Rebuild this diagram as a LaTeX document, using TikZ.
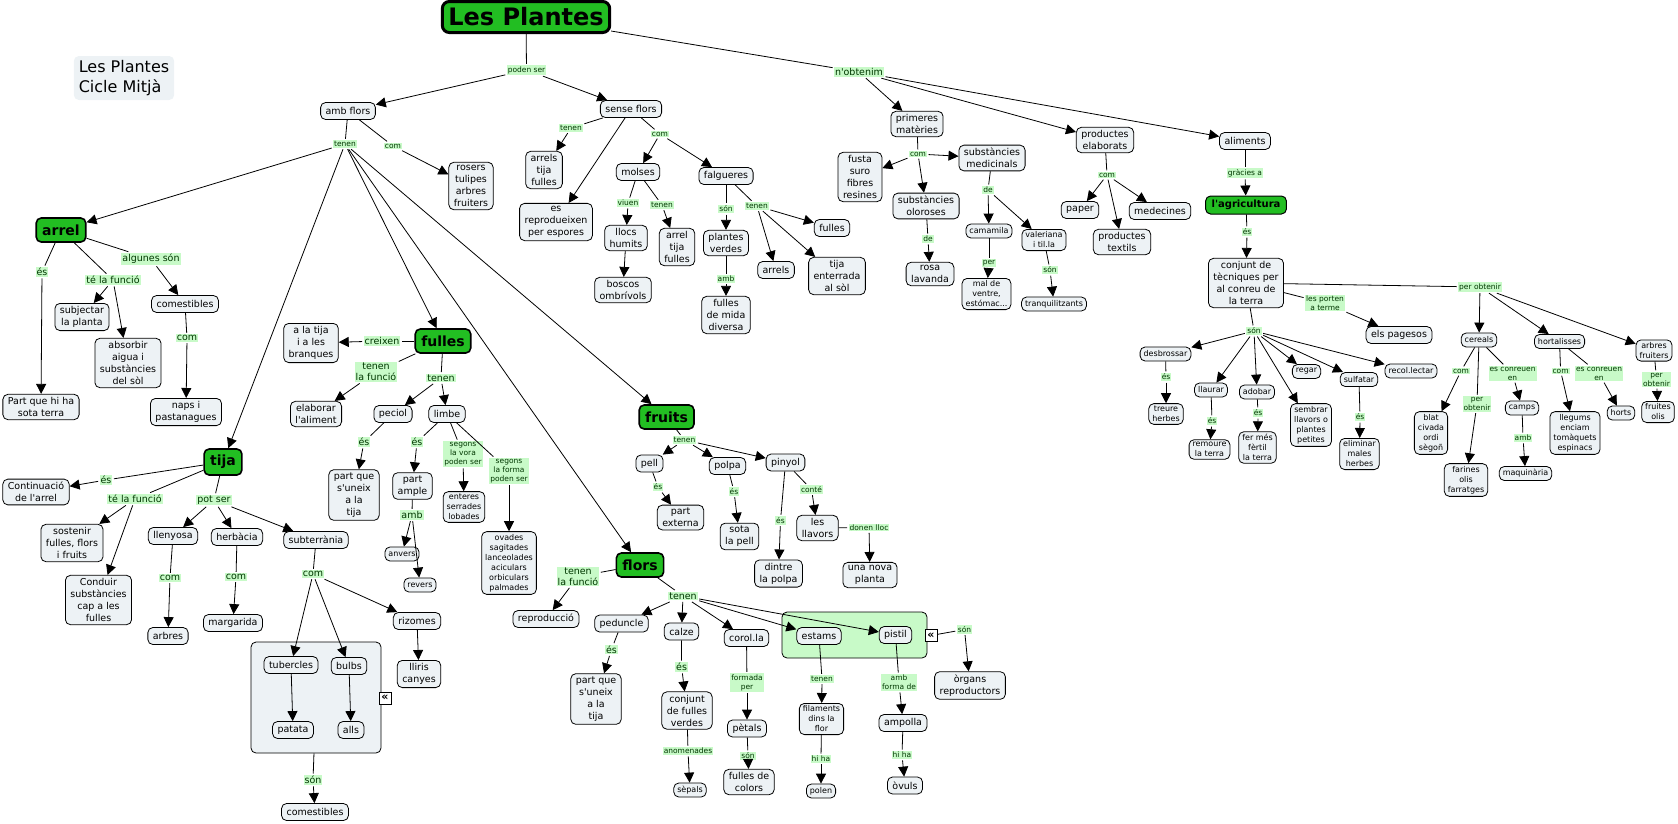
\documentclass[tikz,border=0pt]{standalone}
\usepackage{fontspec}
\setmainfont{DejaVu Sans}
\usepackage{tikz}
\usetikzlibrary{arrows.meta}
\usepackage{xcolor}
\definecolor{cptfill}{RGB}{237,242,245}
\definecolor{mainfill}{RGB}{34,190,34}
\definecolor{lblfill}{RGB}{200,250,200}
\definecolor{lbltext}{RGB}{0,55,0}
\definecolor{grpfill}{RGB}{200,250,200}
\newcommand{\aps}{\textquotesingle}
\newcommand{\drawC}[5][cpt]{
    \node[#1] (#2) at (#3,#4) {#5};
}
\newcommand{\drawL}[5][lbl]{
    \node[#1] (#2) at (#3,#4) {#5};
}
\newcommand{\drawE}[2]{
    \draw[link] (#1) -- (#2);
}
\newcommand{\drawA}[2]{
    \draw[arr] (#1) -- (#2);
}

\begin{document}
\begin{tikzpicture}[x=1pt, y=-1pt,
    cpt/.style={draw, rounded corners=5pt, line width=0.8pt, fill=cptfill, align=center,
        inner xsep=5pt, inner ysep=3pt, minimum height=17pt, font=\fontsize{9.5}{12}\selectfont},
    cps/.style={cpt, inner xsep=3.5pt, inner ysep=2.5pt, minimum height=14pt, font=\fontsize{8}{10}\selectfont},
    mainc/.style={cpt, fill=mainfill, line width=1.6pt, minimum height=24pt, inner xsep=6pt,
        font=\bfseries\fontsize{14}{16}\selectfont},
    lbl/.style={fill=lblfill, text=lbltext, align=center, inner sep=1pt, outer sep=1.5pt,
        font=\fontsize{7.5}{9}\selectfont},
    lblb/.style={lbl, font=\fontsize{9.5}{11}\selectfont},
    link/.style={line width=0.8pt},
    arr/.style={link, -{Triangle[length=10pt,width=10pt]}},
    grpbox/.style={draw, rounded corners=5pt, line width=0.8pt},
    icon/.style={draw, fill=white, line width=0.6pt, inner sep=0pt, minimum size=12pt,
        font=\bfseries\fontsize{11}{11}\selectfont}]
    \useasboundingbox (0,0) rectangle (1678,823);
    % Groups
    \node[grpbox, fill=cptfill, minimum width=130pt, minimum height=111pt] (subtgrp) at (316,697.5) {};
    \node[grpbox, fill=grpfill, minimum width=145pt, minimum height=46pt] (florgrp) at (854.5,635) {};
    \node[icon] (ic1) at (385,698) {«};
    \node[icon] (ic2) at (931,635.5) {«};
    % Main concepts
    \drawC[mainc, line width=3pt, rounded corners=7pt, minimum width=166pt, minimum height=31pt,
        font=\bfseries\fontsize{24}{26}\selectfont]{plantes}{526}{17}{Les Plantes}
    \drawC[cpt, draw=none, align=left, minimum width=100pt, minimum height=44pt,
        font=\fontsize{16}{20}\selectfont]{info}{124}{78}{Les Plantes\\Cicle Mitjà}
    \drawC[mainc]{arrel}{61}{230}{arrel}
    \drawC[mainc, minimum height=26pt]{tija}{223}{462}{tija}
    \drawC[mainc]{fulles}{443}{341}{fulles}
    \drawC[mainc]{fruits}{666.6}{417}{fruits}
    \drawC[mainc]{flors}{640}{565}{flors}
    \drawC[mainc, line width=1pt, minimum height=18pt, font=\bfseries\fontsize{10}{12}\selectfont]{agri}{1246}{205}{l\aps{}agricultura}
    % Concepts
    \drawC{amb}{348}{111}{amb flors}
    \drawC{sense}{631}{109}{sense flors}
    \drawC{rosers}{471}{186}{rosers\\tulipes\\arbres\\fruiters}
    \drawC{partsota}{41}{407}{Part que hi ha\\sota terra}
    \drawC{subj}{82}{317}{subjectar\\la planta}
    \drawC{absorb}{128}{363}{absorbir\\aigua i\\substàncies\\del sòl}
    \drawC{comest}{185}{304}{comestibles}
    \drawC{naps}{186}{412}{naps i\\pastanagues}
    \drawC{branq}{311}{343}{a la tija\\i a les\\branques}
    \drawC{elab}{316}{414}{elaborar\\l\aps{}aliment}
    \drawC{peciol}{393}{414}{peciol}
    \drawC{limbe}{447}{414}{limbe}
    \drawC{cont}{36}{492}{Continuació\\de l\aps{}arrel}
    \drawC{sost}{72}{543}{sostenir\\fulles, flors\\i fruits}
    \drawC{cond}{98.5}{600}{Conduir\\substàncies\\cap a les\\fulles}
    \drawC{llen}{173}{536}{llenyosa}
    \drawC{herb}{237}{537}{herbàcia}
    \drawC{subt}{316}{540}{subterrània}
    \drawC{arbres}{168}{636}{arbres}
    \drawC{marg}{233}{623}{margarida}
    \drawC{rizo}{417}{621}{rizomes}
    \drawC{lliris}{419}{674}{lliris\\canyes}
    \drawC{tuber}{291}{665}{tubercles}
    \drawC{bulbs}{349}{666}{bulbs}
    \drawC{patata}{293}{730}{patata}
    \drawC{alls}{351}{730}{alls}
    \drawC{comest2}{315}{812}{comestibles}
    \drawC{partun}{354}{495}{part que\\s\aps{}uneix\\a la\\tija}
    \drawC{ample}{412.5}{486}{part\\ample}
    \drawC[cps]{anvers}{402}{554}{anvers}
    \drawC[cps]{revers}{420}{585}{revers}
    \drawC[cps]{enteres}{464}{507}{enteres\\serrades\\lobades}
    \drawC[cps]{ovades}{509}{563}{ovades\\sagitades\\lanceolades\\aciculars\\orbiculars\\palmades}
    \drawC{repro}{546}{619}{reproducció}
    \drawC{arrels1}{544}{170}{arrels\\tija\\fulles}
    \drawC{espores}{556}{222}{es\\reprodueixen\\per espores}
    \drawC{molses}{638}{172}{molses}
    \drawC{falg}{726}{176}{falgueres}
    \drawC{llocs}{626}{238}{llocs\\humits}
    \drawC{arrel2}{677}{247}{arrel\\tija\\fulles}
    \drawC{boscos}{623}{290}{boscos\\ombrívols}
    \drawC{verdes}{726}{243}{plantes\\verdes}
    \drawC{mida}{726}{315}{fulles\\de mida\\diversa}
    \drawC{fulles2}{832}{228}{fulles}
    \drawC{arrels2}{776}{270}{arrels}
    \drawC{enterr}{837}{276}{tija\\enterrada\\al sòl}
    \drawC{prim}{917}{124}{primeres\\matèries}
    \drawC{fusta}{860}{177}{fusta\\suro\\fibres\\resines}
    \drawC{medic}{992}{158}{substàncies\\medicinals}
    \drawC{olor}{926}{206}{substàncies\\oloroses}
    \drawC{rosa}{930}{274}{rosa\\lavanda}
    \drawC[cps]{camam}{989}{231}{camamila}
    \drawC[cps]{valer}{1044}{240}{valeriana\\i til.la}
    \drawC[cps]{mal}{986.5}{294}{mal de\\ventre,\\estómac...}
    \drawC[cps]{tranq}{1054}{304}{tranquilitzants}
    \drawC{prod}{1105}{140}{productes\\elaborats}
    \drawC{alim}{1245}{141}{aliments}
    \drawC{paper}{1080}{210}{paper}
    \drawC{medec}{1160}{211}{medecines}
    \drawC{text}{1122}{242}{productes\\textils}
    \drawC{conj}{1246}{283}{conjunt de\\tècniques per\\al conreu de\\la terra}
    \drawC{pages}{1399}{335}{els pagesos}
    \drawC[cps]{desb}{1165.5}{354}{desbrossar}
    \drawC[cps]{treure}{1166}{414}{treure\\herbes}
    \drawC[cps]{llaur}{1211}{390}{llaurar}
    \drawC[cps]{remou}{1209.5}{449.5}{remoure\\la terra}
    \drawC[cps]{adob}{1257}{392}{adobar}
    \drawC[cps]{ferti}{1257.5}{447.5}{fer més\\fèrtil\\la terra}
    \drawC[cps]{sembr}{1311}{425}{sembrar\\llavors o\\plantes\\petites}
    \drawC[cps]{regar}{1306.5}{371.5}{regar}
    \drawC[cps]{sulf}{1359}{379.5}{sulfatar}
    \drawC[cps]{elim}{1359.5}{454}{eliminar\\males\\herbes}
    \drawC[cps]{recol}{1411}{371}{recol.lectar}
    \drawC[cps]{cereals}{1479}{340}{cereals}
    \drawC[cps]{hort}{1559.5}{341.5}{hortalisses}
    \drawC[cps]{arbfr}{1654}{350.5}{arbres\\fruiters}
    \drawC[cps]{blat}{1431}{433}{blat\\civada\\ordi\\sègoñ}
    \drawC[cps]{farin}{1466}{480}{farines\\olis\\farratges}
    \drawC[cps]{camps}{1522}{408}{camps}
    \drawC[cps]{maqui}{1525.5}{473.5}{maquinària}
    \drawC[cps]{llegums}{1575}{433}{llegums\\enciam\\tomàquets\\espinacs}
    \drawC[cps]{horts}{1621}{413}{horts}
    \drawC[cps]{fruites}{1658}{412}{fruites\\olis}
    \drawC{pell}{649.5}{463.5}{pell}
    \drawC{polpa}{727.5}{466}{polpa}
    \drawC{pinyol}{785.5}{462.5}{pinyol}
    \drawC{extern}{680.5}{517.5}{part\\externa}
    \drawC{sota}{739.5}{536.5}{sota\\la pell}
    \drawC{llavors}{817.5}{528}{les\\llavors}
    \drawC{dintre}{778.5}{573.5}{dintre\\la polpa}
    \drawC{nova}{870}{575}{una nova\\planta}
    \drawC{pedun}{621.5}{623.5}{peduncle}
    \drawC{calze}{681.5}{631.5}{calze}
    \drawC{corol}{746.5}{638}{corol.la}
    \drawC{estams}{819}{636}{estams}
    \drawC{pistil}{895.5}{635}{pistil}
    \drawC{organs}{970}{685.5}{òrgans\\reproductors}
    \drawC{partun2}{596}{699}{part que\\s\aps{}uneix\\a la\\tija}
    \drawC{fverd}{687}{710.5}{conjunt\\de fulles\\verdes}
    \drawC[cps]{sepals}{690}{790}{sèpals}
    \drawC{petals}{747}{728.5}{pètals}
    \drawC{fcolor}{749}{782}{fulles de\\colors}
    \drawC[cps]{filam}{821.5}{719}{filaments\\dins la\\flor}
    \drawC[cps]{polen}{821}{791}{polen}
    \drawC{ampol}{903}{723}{ampolla}
    \drawC{ovuls}{905}{785.5}{òvuls}
    % Linking phrases
    \drawL{podenser}{526.5}{70}{poden ser}
    \drawL[lblb]{nobt}{859}{72}{n\aps{}obtenim}
    \drawL{tenA}{345}{144}{tenen}
    \drawL{comA}{393}{146}{com}
    \drawL[lblb]{esAr}{42}{272}{és}
    \drawL[lblb]{funAr}{113}{280}{té la funció}
    \drawL[lblb]{algu}{151}{259}{algunes són}
    \drawL[lblb]{comC}{187}{338}{com}
    \drawL[lblb]{creix}{382}{341}{creixen}
    \drawL[lblb]{funFu}{376}{372}{tenen\\la funció}
    \drawL[lblb]{tenFu}{441}{378}{tenen}
    \drawL[lblb]{esTi}{106}{480}{és}
    \drawL[lblb]{funTi}{135}{499}{té la funció}
    \drawL[lblb]{potser}{214}{500}{pot ser}
    \drawL[lblb]{comLl}{170}{578}{com}
    \drawL[lblb]{comHe}{236}{577}{com}
    \drawL[lblb]{comSu}{313}{574}{com}
    \drawL[lblb]{sonG}{313}{780}{són}
    \drawL[lblb]{esPe}{364}{442}{és}
    \drawL[lblb]{esLi}{417}{442}{és}
    \drawL[lblb]{ambAm}{412}{515}{amb}
    \drawL{vora}{463}{454}{segons\\la vora\\poden ser}
    \drawL{forma}{509}{471}{segons\\la forma\\poden ser}
    \drawL{tenS}{571}{128}{tenen}
    \drawL{comS}{660}{134}{com}
    \drawL{viuen}{628}{203}{viuen}
    \drawL{tenM}{662}{205}{tenen}
    \drawL{sonF}{726}{209}{són}
    \drawL{tenF}{757}{206}{tenen}
    \drawL{ambV}{726}{279}{amb}
    \drawL{comP}{918}{154}{com}
    \drawL{deO}{928}{239}{de}
    \drawL{deM}{988}{190}{de}
    \drawL{per}{989}{263}{per}
    \drawL{sonV}{1050}{270}{són}
    \drawL{comPr}{1107}{175}{com}
    \drawL{grac}{1245}{173}{gràcies a}
    \drawL{esAg}{1247}{232}{és}
    \drawL{perob}{1480}{287}{per obtenir}
    \drawL{porten}{1325}{303}{les porten\\a terme}
    \drawL{sonC}{1254}{331}{són}
    \drawL{esD}{1166}{377}{és}
    \drawL{esL}{1212}{421}{és}
    \drawL{esA}{1258}{413}{és}
    \drawL{esSu}{1360}{417}{és}
    \drawL{comCe}{1461}{371}{com}
    \drawL{perCe}{1477}{404}{per\\obtenir}
    \drawL{conrCe}{1512.5}{373.5}{es conreuen\\en}
    \drawL{ambCa}{1523}{438}{amb}
    \drawL{comHo}{1560.6}{371}{com}
    \drawL{conrHo}{1599}{373.5}{es conreuen\\en}
    \drawL{perAr}{1656.5}{379.5}{per\\obtenir}
    \drawL{tenFr}{684.5}{440}{tenen}
    \drawL{esPl}{658}{487}{és}
    \drawL{esPo}{734}{491.5}{és}
    \drawL{esPi}{780.5}{520.5}{és}
    \drawL{conte}{811.5}{489.5}{conté}
    \drawL{donen}{869}{527.5}{donen lloc}
    \drawL[lblb]{funFl}{578}{576.5}{tenen\\la funció}
    \drawL[lblb]{tenFl}{683}{596}{tenen}
    \drawL[lblb]{esPd}{611.5}{649.5}{és}
    \drawL[lblb]{esCa}{681.6}{667}{és}
    \drawL{anom}{688}{751}{anomenades}
    \drawL{formada}{747}{682.5}{formada\\per}
    \drawL{sonP}{748}{756}{són}
    \drawL{tenE}{822}{679}{tenen}
    \drawL{hiha1}{821}{759}{hi ha}
    \drawL{ambf}{899}{682.5}{amb\\forma de}
    \drawL{hiha2}{902}{755}{hi ha}
    \drawL{sonGr}{964.5}{629.5}{són}
    % Links to phrases
    \drawE{plantes}{podenser}
    \drawE{plantes}{nobt}
    \drawE{amb}{tenA}
    \drawE{amb}{comA}
    \drawE{arrel}{esAr}
    \drawE{arrel}{funAr}
    \drawE{arrel}{algu}
    \drawE{comest}{comC}
    \drawE{fulles}{creix}
    \drawE{fulles}{funFu}
    \drawE{fulles}{tenFu}
    \drawE{peciol}{esPe}
    \drawE{limbe}{esLi}
    \drawE{limbe}{vora}
    \drawE{limbe}{forma}
    \drawE{ample}{ambAm}
    \drawE{tija}{esTi}
    \drawE{tija}{funTi}
    \drawE{tija}{potser}
    \drawE{llen}{comLl}
    \drawE{herb}{comHe}
    \drawE{subt}{comSu}
    \drawE{subtgrp}{sonG}
    \drawE{sense}{tenS}
    \drawE{sense}{comS}
    \drawE{molses}{viuen}
    \drawE{molses}{tenM}
    \drawE{falg}{sonF}
    \drawE{falg}{tenF}
    \drawE{verdes}{ambV}
    \drawE{prim}{comP}
    \drawE{olor}{deO}
    \drawE{medic}{deM}
    \drawE{camam}{per}
    \drawE{valer}{sonV}
    \drawE{prod}{comPr}
    \drawE{alim}{grac}
    \drawE{agri}{esAg}
    \drawE{conj}{perob}
    \drawE{conj}{porten}
    \drawE{conj}{sonC}
    \drawE{desb}{esD}
    \drawE{llaur}{esL}
    \drawE{adob}{esA}
    \drawE{sulf}{esSu}
    \drawE{cereals}{comCe}
    \drawE{cereals}{perCe}
    \drawE{cereals}{conrCe}
    \drawE{camps}{ambCa}
    \drawE{hort}{comHo}
    \drawE{hort}{conrHo}
    \drawE{arbfr}{perAr}
    \drawE{fruits}{tenFr}
    \drawE{pell}{esPl}
    \drawE{polpa}{esPo}
    \drawE{pinyol}{esPi}
    \drawE{pinyol}{conte}
    \drawE{llavors}{donen}
    \drawE{flors}{funFl}
    \drawE{flors}{tenFl}
    \drawE{pedun}{esPd}
    \drawE{calze}{esCa}
    \drawE{fverd}{anom}
    \drawE{corol}{formada}
    \drawE{petals}{sonP}
    \drawE{estams}{tenE}
    \drawE{filam}{hiha1}
    \drawE{pistil}{ambf}
    \drawE{ampol}{hiha2}
    \drawE{ic2}{sonGr}
    % Arrows to concepts
    \drawA{podenser}{amb}
    \drawA{podenser}{sense}
    \drawA{nobt}{prim}
    \drawA{nobt}{prod}
    \drawA{nobt}{alim}
    \drawA{tenA}{arrel}
    \drawA{tenA}{tija}
    \drawA{tenA}{fulles}
    \drawA{tenA}{fruits}
    \drawA{tenA}{flors}
    \drawA{comA}{rosers}
    \drawA{esAr}{partsota}
    \drawA{funAr}{subj}
    \drawA{funAr}{absorb}
    \drawA{algu}{comest}
    \drawA{comC}{naps}
    \drawA{creix}{branq}
    \drawA{funFu}{elab}
    \drawA{tenFu}{peciol}
    \drawA{tenFu}{limbe}
    \drawA{esPe}{partun}
    \drawA{esLi}{ample}
    \drawA{vora}{enteres}
    \drawA{forma}{ovades}
    \drawA{ambAm}{anvers}
    \drawA{ambAm}{revers}
    \drawA{esTi}{cont}
    \drawA{funTi}{sost}
    \drawA{funTi}{cond}
    \drawA{potser}{llen}
    \drawA{potser}{herb}
    \drawA{potser}{subt}
    \drawA{comLl}{arbres}
    \drawA{comHe}{marg}
    \drawA{comSu}{tuber}
    \drawA{comSu}{bulbs}
    \drawA{comSu}{rizo}
    \drawA{rizo}{lliris}
    \drawA{tuber}{patata}
    \drawA{bulbs}{alls}
    \drawA{sonG}{comest2}
    \drawA{tenS}{arrels1}
    \drawA{sense}{espores}
    \drawA{comS}{molses}
    \drawA{comS}{falg}
    \drawA{viuen}{llocs}
    \drawA{tenM}{arrel2}
    \drawA{llocs}{boscos}
    \drawA{sonF}{verdes}
    \drawA{tenF}{fulles2}
    \drawA{tenF}{arrels2}
    \drawA{tenF}{enterr}
    \drawA{ambV}{mida}
    \drawA{comP}{fusta}
    \drawA{comP}{olor}
    \drawA{comP}{medic}
    \drawA{deO}{rosa}
    \drawA{deM}{camam}
    \drawA{deM}{valer}
    \drawA{per}{mal}
    \drawA{sonV}{tranq}
    \drawA{comPr}{paper}
    \drawA{comPr}{text}
    \drawA{comPr}{medec}
    \drawA{grac}{agri}
    \drawA{esAg}{conj}
    \drawA{perob}{cereals}
    \drawA{perob}{hort}
    \drawA{perob}{arbfr}
    \drawA{porten}{pages}
    \drawA{sonC}{desb}
    \drawA{sonC}{llaur}
    \drawA{sonC}{adob}
    \drawA{sonC}{sembr}
    \drawA{sonC}{regar}
    \drawA{sonC}{sulf}
    \drawA{sonC}{recol}
    \drawA{esD}{treure}
    \drawA{esL}{remou}
    \drawA{esA}{ferti}
    \drawA{esSu}{elim}
    \drawA{comCe}{blat}
    \drawA{perCe}{farin}
    \drawA{conrCe}{camps}
    \drawA{ambCa}{maqui}
    \drawA{comHo}{llegums}
    \drawA{conrHo}{horts}
    \drawA{perAr}{fruites}
    \drawA{tenFr}{pell}
    \drawA{tenFr}{polpa}
    \drawA{tenFr}{pinyol}
    \drawA{esPl}{extern}
    \drawA{esPo}{sota}
    \drawA{esPi}{dintre}
    \drawA{conte}{llavors}
    \drawA{donen}{nova}
    \drawA{funFl}{repro}
    \drawA{tenFl}{pedun}
    \drawA{tenFl}{calze}
    \drawA{tenFl}{corol}
    \drawA{tenFl}{estams}
    \drawA{tenFl}{pistil}
    \drawA{esPd}{partun2}
    \drawA{esCa}{fverd}
    \drawA{anom}{sepals}
    \drawA{formada}{petals}
    \drawA{sonP}{fcolor}
    \drawA{tenE}{filam}
    \drawA{hiha1}{polen}
    \drawA{ambf}{ampol}
    \drawA{hiha2}{ovuls}
    \drawA{sonGr}{organs}
\end{tikzpicture}
\end{document}
